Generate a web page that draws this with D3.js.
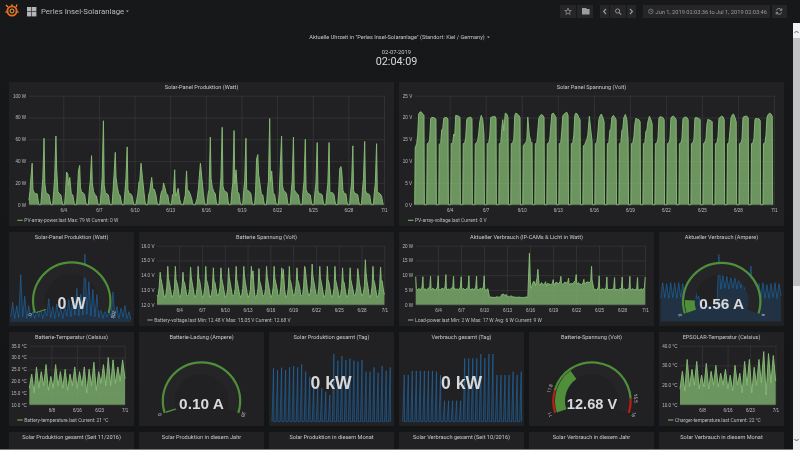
<!DOCTYPE html>
<html>
<head>
<meta charset="utf-8">
<script src="https://cdn.jsdelivr.net/npm/d3@7"></script>
<style>
  html, body { margin: 0; padding: 0; background: #161719; overflow: hidden; }
  svg { display: block; font-family: Roboto, "Liberation Sans", sans-serif; filter: blur(0.35px); }
  .gridline line { stroke: #3c3c3f; stroke-width: 0.6; }
  .gridline path { display: none; }
  .gridline text { fill: #bdbdbf; font-size: 4.6px; }
</style>
</head>
<body>
<div id="dash"></div>
<script>
// one row per day, one value per hour listed in the *Hours array (hours after 02:00)
const powerHours = [0.5, 2.5, 4.5, 7, 8.5, 11, 14, 17, 19, 20.5];
const panelPower = [
  [4,12,25,38,14,11,10,10,4,0], [0,12,24,61,20,11,10,9,4,0], [0,12,25,63,33,12,10,9,4,0],
  [0,12,30,28,18,25,10,9,4,0], [0,12,31,36,16,11,11,9,3,0], [0,13,22,45,20,12,9,8,3,0],
  [0,12,25,77,18,11,10,9,3,0], [0,13,28,48,25,16,10,8,3,0], [0,12,24,53,14,10,10,8,3,0],
  [0,5,10,21,22,38,24,11,3,0], [0,9,12,20,25,14,14,9,3,0], [0,8,12,14,20,16,10,9,3,0],
  [0,9,10,32,8,10,15,5,2,0], [0,5,9,31,14,13,10,6,2,0], [0,3,6,15,24,38,24,10,3,0],
  [0,10,14,62,24,16,12,10,3,0], [0,13,25,71,17,13,12,11,3,0], [0,12,20,68,19,32,12,10,3,0],
  [0,13,22,61,14,13,12,10,3,0], [0,12,42,46,28,20,10,9,3,0], [0,13,22,79,21,31,11,9,3,0],
  [0,13,36,63,18,13,12,10,3,0], [0,12,22,62,14,12,10,9,3,0], [0,13,22,60,14,11,10,9,3,0],
  [0,12,20,57,13,10,10,9,3,0], [0,11,19,57,12,11,11,9,3,0], [0,12,33,35,31,13,10,10,3,0],
  [0,12,20,54,13,10,10,9,3,0], [0,13,24,58,13,10,10,9,3,0], [0,11,20,56,11,11,10,8,3,0]
];

const voltHours = [0, 1, 4, 6, 8, 10, 13, 16, 18.5, 19.3];
const panelVoltage = [
  [0,13,14,16,20.8,21.2,21.3,20.8,20.5,0], [0,14,14.2,15,19.8,20,20,19.9,19.6,0],
  [0,13.8,14.2,17.2,17.3,19.8,20,20,19.6,0], [0,14,14.2,16.2,15.8,20.5,20.4,20.3,20,0],
  [0,14,14.2,15.5,19.5,19.9,20,20.1,19.7,0], [0,13.9,14.3,14.8,16.5,19,20.5,19.5,16,0],
  [0,14,14.2,15.8,20,20.1,20.2,20.3,19.8,0], [0,14,14.1,17.5,19.5,17,21,20.8,20,0],
  [0,14,14.2,15,20.5,21,20.8,20.5,20,0], [0,13.5,14,14.3,14.8,20.1,16,14.5,14.2,0],
  [0,14,14.2,17,19.8,20.3,20.7,20.5,20,0], [0,14,14.2,15,18,20.8,21,20.5,20,0],
  [0,14,14.3,17,20.4,20.7,21,21.2,20.5,0], [0,14,14.2,16,20.5,21,20.8,20,19.5,0],
  [0,13.5,13.8,14.5,15,16,20.3,17,14.5,0], [0,14,14.3,16.5,19.5,20.3,20.8,20,19,0],
  [0,14,14.2,17,17.5,20,20.5,20,19.5,0], [0,14,14.2,17,17.5,20,20.7,19.5,15,0],
  [0,14,14.2,15.5,18.5,19.8,19.6,19.5,19,0], [0,14,14.2,16.8,17.2,19,20.3,19.5,18.5,0],
  [0,14,14.2,15,19.8,20.2,20.1,20,19.5,0], [0,14,14.2,15,19.8,20.2,20.3,20,19.5,0],
  [0,14,14.2,15,19.7,20,20.1,20,19.5,0], [0,14,14.2,15,19.9,20,19.9,19.8,19.5,0],
  [0,14,14.4,15,18.5,19.6,19.4,19.3,19,0], [0,14,14.2,15.5,19.8,20,20.3,20.2,19.5,0],
  [0,14,14.3,17,19.8,20.5,20.8,20,19,0], [0,14,14.2,15,20,20.2,20.3,20.3,19.9,0],
  [0,14,14.2,15.2,19.6,19.8,19.7,19.7,19.3,0], [0,14,14.2,16,20,20.6,21,20.8,20.3,0]
];

const batteryHours = [0, 4, 7, 10, 12, 15, 19, 22];
const batteryVoltage = [
  [12.6,12.7,13.2,14.2,13.8,13.5,13,12.6], [12.5,12.7,13.2,14.6,13.8,13.5,13,12.6],
  [12.5,12.7,13.1,14.6,13.7,13.5,13.1,12.6], [12.5,12.7,13.2,14.2,13.6,13.5,13,12.6],
  [12.6,12.7,13.1,14.55,13.9,13.5,13,12.6], [12.5,12.7,13.2,14.6,13.8,13.6,13,12.6],
  [12.5,12.7,13.2,14.6,13.7,13.5,13.1,12.5], [12.5,12.7,13.1,14.5,13.6,13.5,13,12.6],
  [12.6,12.8,13.2,14.5,13.8,13.5,13,12.6], [12.5,12.7,13,14.5,13.9,13.5,13,12.6],
  [12.6,12.7,13.1,14.6,13.7,13.4,12.9,12.6], [12.5,12.7,13.1,14.6,14,13.5,13,12.6],
  [12.5,12.7,13,14.6,13.8,14.3,13,12.5], [12.5,12.7,13.1,14.45,13.6,13.4,13,12.6],
  [12.6,12.7,13.1,14.6,13.9,13.5,13,12.6], [12.5,12.7,13.2,14.6,13.8,13.5,13.1,12.6],
  [12.6,12.7,13.2,14.5,13.8,14.4,13,12.6], [12.5,12.7,13.2,14.6,13.7,13.5,13,12.6],
  [12.6,12.8,13.3,14.5,13.7,13.5,13.1,12.6], [12.6,12.7,13.2,14.6,14.5,13.8,13,12.7],
  [12.6,12.8,13.3,14.75,14,13.6,13.1,12.7], [12.6,12.7,13.2,14.6,13.8,13.5,13,12.6],
  [12.5,12.7,13.2,14.6,13.7,13.5,13,12.6], [12.5,12.7,13.1,14.6,13.7,13.4,13,12.6],
  [12.5,12.7,13.1,14.5,13.6,13.5,12.9,12.6], [12.5,12.7,13.2,14.5,13.7,13.4,13,12.6],
  [12.6,12.8,13.2,14.45,14.1,13.5,13,12.6], [12.6,12.8,13.3,15.05,14.2,13.6,13.1,12.6],
  [12.5,12.7,13.2,14.6,13.7,13.5,13,12.6], [12.5,12.7,13.2,14.55,13.7,13.6,13,12.68]
];

const loadHours = [0, 2, 5, 10, 15, 20, 22.5];
const loadPower = [
  [9.5,5.5,5,5.5,5,6,9.5], [5.5,5.2,5.4,5,5.6,5.8,9.6], [5.4,5,5.6,5.2,5,6,9.8],
  [5.5,5.2,5,5.6,5.2,6,10.2], [5.6,5,5.4,5,5.6,5.8,9.6], [5.2,5.6,5,5.4,5,6,9.5],
  [5.4,5.2,5.6,5,5.4,5.8,9.8], [5.6,5,5.2,5.4,5,6,9.7], [5.5,5.2,5,5.6,5.2,6,9.8],
  [5.5,5,5,5.4,2.6,2.5,2.6], [2.5,2.6,2.4,2.5,2.7,2.5,2.6], [2.5,2.6,3.4,3.6,3.2,3.4,2.8],
  [3,2.7,2.6,3,2.7,2.6,2.5], [2.6,2.5,2.4,2.6,2.5,2.4,2.5], [2.5,2.4,2.5,2.6,2.5,17.5,9],
  [6,5.5,7,8,6.5,9,12], [9.8,7,6.5,7.5,6.8,7,7.8], [7,6.4,7.2,7,6.8,7.2,8.5],
  [7,6.6,7.4,7.6,7,7.8,9.6], [7.4,7,6.8,7.6,7.4,7.6,9], [7,6.6,7.2,7,7.6,8.2,10.2],
  [7.6,7,7.4,7,6.8,7.4,8.6], [7,7.2,7.4,7.8,7.4,8,13], [8.4,7.4,5.4,5.2,5,6,9.8],
  [5.4,5,5.2,5.4,5,5.8,9.4], [5.2,5.4,5,5.2,5,5.8,9.2], [5.4,5,5.2,5,5.4,5.6,9.4],
  [5,5.2,5.4,5,5.2,5.8,9.6], [5.2,5,5.4,5.2,5,5.6,9.2], [5,5.2,5,5.4,5,5.8,9.4]
];

// temperatures: one value every 18 hours
const batteryTemp = [17,23,15,26,17,24,18,27,16,22,17,27,18,24,17,25,16,23,18,26,17,24,18,26,15,25,18,28,16,24,19,27,18,30,18,29,19,26,20,29,21];
const chargerTemp = [18,27,17,33,19,28,20,32,18,25,19,31,18,27,20,30,19,26,20,28,18,25,17,30,20,26,16,32,20,33,16,29,20,33,21,37,15,36,21,35,22];
// sparklines: one value every 12 hours
const solarSpark = [6,23,4,19,5,55,6,30,4,19,5,12,4,14,6,16,4,14,7,27,5,18,4,21,6,16,4,19,7,26,6,28,8,39,7,32,8,79,9,47,7,38,6,32,5,16,4,14,6,12,7,35,5,18,4,16,6,19,4,12,3];
const ampereSpark = [0.5,0.84,0.52,0.82,0.5,0.84,0.52,0.83,0.5,0.84,0.53,0.82,0.5,0.83,0.52,0.84,0.5,0.83,0.5,0.55,0.26,0.3,0.27,0.36,0.28,0.32,0.26,0.3,0.26,1.45,0.7,1.0,0.72,0.98,0.7,0.95,0.72,0.98,0.7,0.95,0.72,0.94,0.7,0.9,0.68,1.2,0.6,0.86,0.5,0.82,0.52,0.84,0.5,0.8,0.5,0.82,0.52,0.84,0.5,0.82,0.56];
// highest reading of each day, counter goes back to 0 at night
const solarDayPeaks = [160,155,162,155,163,167,163,172,150,135,115,110,100,90,80,203,183,197,185,189,183,180,185,150,150,163,147,167,153,163];
const loadDayPeaks = [140,140,152,152,152,152,152,152,150,140,63,63,63,63,63,190,190,190,190,203,190,203,203,140,140,140,140,150,140,150];

const dayTicks = ["06-04","06-07","06-10","06-13","06-16","06-19","06-22","06-25","06-28","07-01"];
const weekTicks = ["06-08","06-16","06-23","07-01"];
const tickDates = dayTicks.map(d => new Date("2019-" + d + "T00:00:00Z"));
const weekDates = weekTicks.map(d => new Date("2019-" + d + "T00:00:00Z"));

const bottomTitles = ["Solar Produktion gesamt (Seit 11/2016)", "Solar Produktion in diesem Jahr", "Solar Produktion in diesem Monat",
  "Solar Verbrauch gesamt (Seit 10/2016)", "Solar Verbrauch in diesem Jahr", "Solar Verbrauch in diesem Monat"];

const w = 800, h = 450;
const startMs = Date.UTC(2019, 5, 1, 2, 3, 36);
const endMs = Date.UTC(2019, 6, 1, 2, 3, 46);
const HOUR = 3600000;
const GREEN = "#7eb26d", BLUE = "#1f78c1", RING = "#508f3a";

const svg = d3.select("#dash").append("svg").attr("width", w).attr("height", h);
const defs = svg.append("defs");
const bgGrad = defs.append("linearGradient").attr("id", "bg").attr("x1", 0).attr("x2", 0).attr("y1", 0).attr("y2", 1);
bgGrad.append("stop").attr("offset", 0).attr("stop-color", "#17181a");
bgGrad.append("stop").attr("offset", 1).attr("stop-color", "#141517");
svg.append("rect").attr("width", w).attr("height", h).attr("fill", "url(#bg)");

// turn day rows into {t, v} points
const fromRows = (rows, hours) => rows.flatMap((row, day) =>
  row.map((v, i) => ({ t: new Date(startMs + (day * 24 + hours[i]) * HOUR), v: v })));
const fromSteps = (values, step) => values.map((v, i) => ({ t: new Date(startMs + i * step * HOUR), v: v }));
const fromPeaks = peaks => peaks.flatMap((v, day) => [
  { t: new Date(startMs + (day + 0.42) * 24 * HOUR), v: 0 },
  { t: new Date(startMs + (day + 0.8) * 24 * HOUR), v: v },
  { t: new Date(startMs + (day + 0.9) * 24 * HOUR), v: 0 }
]);

const panel = (x0, y0, x1, y1, title) => {
  svg.append("rect").attr("x", x0).attr("y", y0).attr("width", x1 - x0).attr("height", y1 - y0).attr("fill", "#212124");
  svg.append("text").attr("x", (x0 + x1) / 2).attr("y", y0 + 7.4).attr("text-anchor", "middle")
    .attr("font-size", 5.6).attr("fill", "#c8c9ca").text(title);
};

const timeChart = (p) => {
  const x = d3.scaleUtc().domain([startMs, endMs]).range([p.left, p.right]);
  const y = d3.scaleLinear().domain(p.domain).range([p.bottom, p.top]);
  const g = svg.append("g");
  g.append("g").classed("gridline", true).attr("transform", "translate(" + p.left + ",0)")
    .call(d3.axisLeft(y).tickValues(p.yTicks).tickSize(-(p.right - p.left)).tickPadding(2.5)
      .tickFormat(d => (p.fixed ? d.toFixed(1) : d) + " " + p.unit));
  g.append("g").classed("gridline", true).attr("transform", "translate(0," + p.bottom + ")")
    .call(d3.axisBottom(x).tickValues(p.xTicks || tickDates).tickSize(-(p.bottom - p.top)).tickPadding(3.8)
      .tickFormat(d => (d.getUTCMonth() + 1) + "/" + d.getUTCDate()));
  g.selectAll(".gridline text").attr("stroke", "none");
  const area = d3.area().x(d => x(d.t)).y0(p.bottom).y1(d => y(d.v));
  const line = d3.line().x(d => x(d.t)).y(d => y(d.v));
  g.append("path").datum(p.points).attr("d", area).attr("fill", GREEN).attr("fill-opacity", 0.8);
  g.append("path").datum(p.points).attr("d", line).attr("fill", "none").attr("stroke", "#86bb74").attr("stroke-width", 0.95);
  // legend under the plot
  g.append("line").attr("x1", p.legendX).attr("x2", p.legendX + 5.4).attr("y1", p.legendY).attr("y2", p.legendY)
    .attr("stroke", GREEN).attr("stroke-width", 1.1);
  g.append("text").attr("x", p.legendX + 7).attr("y", p.legendY + 1.7).attr("font-size", 4.9).attr("fill", "#bdbec0").text(p.legend);
};

const spark = (left, right, top, bottom, points, fillOpacity) => {
  const x = d3.scaleUtc().domain([startMs, endMs]).range([left, right]);
  const y = d3.scaleLinear().domain([0, d3.max(points, d => d.v)]).range([bottom, top]);
  svg.append("path").datum(points).attr("d", d3.area().x(d => x(d.t)).y0(bottom).y1(d => y(d.v)))
    .attr("fill", BLUE).attr("fill-opacity", fillOpacity);
  svg.append("path").datum(points).attr("d", d3.line().x(d => x(d.t)).y(d => y(d.v)))
    .attr("fill", "none").attr("stroke", BLUE).attr("stroke-opacity", 0.7).attr("stroke-width", 0.7);
};

const bigValue = (cx, cy, text, size) => {
  svg.append("text").attr("x", cx).attr("y", cy).attr("text-anchor", "middle").attr("dominant-baseline", "middle")
    .attr("font-family", "'Liberation Sans', sans-serif").attr("font-weight", "bold").attr("font-size", size)
    .attr("fill", "#d8d9da").text(text);
};

// gauge runs 108 degrees either side of straight up
const gauge = (g) => {
  const sweep = 108 * Math.PI / 180;
  const angle = d3.scaleLinear().domain([g.min, g.max]).range([-sweep, sweep]);
  const c = svg.append("g").attr("transform", "translate(" + g.cx + "," + g.cy + ")");
  c.append("path").attr("fill", "#252527")
    .attr("d", d3.arc()({ innerRadius: 27, outerRadius: 37.6, startAngle: -sweep, endAngle: sweep }));
  c.append("path").attr("fill", RING).attr("stroke", RING).attr("stroke-width", g.value / (g.max - g.min) < 0.02 ? 0.8 : 0)
    .attr("d", d3.arc()({ innerRadius: 27, outerRadius: 37, startAngle: -sweep, endAngle: angle(g.value) }));
  g.bands.forEach(b => {
    c.append("path").attr("fill", b[2])
      .attr("d", d3.arc()({ innerRadius: 37.6, outerRadius: 39.8, startAngle: angle(b[0]), endAngle: angle(b[1]) }));
  });
  g.labels.forEach(l => {
    const a = angle(l);
    c.append("text").attr("x", 43.5 * Math.sin(a)).attr("y", -43.5 * Math.cos(a)).attr("text-anchor", "middle")
      .attr("dominant-baseline", "middle").attr("font-size", 4.6).attr("fill", "#cfd0d1")
      .attr("transform", "rotate(" + (a * 180 / Math.PI) + " " + (43.5 * Math.sin(a)) + " " + (-43.5 * Math.cos(a)) + ")")
      .text(l);
  });
  bigValue(g.cx, g.textY, g.text, g.size);
};

// --- top bar ---
const logo = svg.append("g").attr("transform", "translate(12,11)");
logo.append("circle").attr("r", 4.6).attr("fill", "none").attr("stroke", "#f0681f").attr("stroke-width", 1.9);
logo.append("circle").attr("r", 2).attr("fill", "none").attr("stroke", "#f9b233").attr("stroke-width", 1);
logo.append("path").attr("d", "M-4,-4 L-6,-6 M4,-4 L5,-6.4 M0,-5 L0,-6.8 M5,1 L6.8,1 M-5,1 L-6.8,1").attr("stroke", "#f48b25").attr("stroke-width", 1.2);

[[27, 7], [32, 7], [27, 12], [32, 12]].forEach(c => {
  svg.append("rect").attr("x", c[0]).attr("y", c[1]).attr("width", 4.4).attr("height", 4.4).attr("fill", "#b4b5b7");
});
svg.append("text").attr("x", 41).attr("y", 14).attr("font-size", 7.8).attr("fill", "#b9babb").text("Perles Insel-Solaranlage");
svg.append("path").attr("d", "M126,10.6 h2.8 l-1.4,1.6 z").attr("fill", "#a8a9aa");

const buttons = [[560, 16], [577, 16], [600, 9], [610, 16], [627, 9], [643, 127], [772, 15]];
buttons.forEach(b => {
  svg.append("rect").attr("x", b[0]).attr("y", 5).attr("width", b[1]).attr("height", 13).attr("fill", "#262628");
});
const iconColor = "#9b9c9e";
svg.append("path").attr("fill", "none").attr("stroke", iconColor).attr("stroke-width", 0.7)
  .attr("d", d3.symbol().type(d3.symbolStar).size(14)()).attr("transform", "translate(568,11.6)");
svg.append("path").attr("fill", iconColor).attr("d", "M582,8 h4 l1,1 h2.6 v5.4 h-7.6 z");
svg.append("path").attr("fill", "none").attr("stroke", iconColor).attr("stroke-width", 1.1).attr("d", "M606,9 l-2.4,2.5 l2.4,2.5");
svg.append("circle").attr("cx", 617.6).attr("cy", 11).attr("r", 2.1).attr("fill", "none").attr("stroke", iconColor).attr("stroke-width", 0.9);
svg.append("path").attr("stroke", iconColor).attr("stroke-width", 1.1).attr("d", "M619.2,12.6 l2,2");
svg.append("path").attr("fill", "none").attr("stroke", iconColor).attr("stroke-width", 1.1).attr("d", "M630,9 l2.4,2.5 l-2.4,2.5");
svg.append("circle").attr("cx", 650.8).attr("cy", 11.4).attr("r", 2.3).attr("fill", "none").attr("stroke", iconColor).attr("stroke-width", 0.6);
svg.append("path").attr("fill", "none").attr("stroke", iconColor).attr("stroke-width", 0.5).attr("d", "M650.8,10 v1.5 h1.2");
svg.append("text").attr("x", 655.5).attr("y", 13.6).attr("font-size", 5.7).attr("fill", "#9a9b9d").text("Jun 1, 2019 02:03:36 to Jul 1, 2019 02:03:46");
svg.append("path").attr("fill", "none").attr("stroke", iconColor).attr("stroke-width", 0.9)
  .attr("d", "M776.4,10.4 A2.7,2.7 0 0 1 781.4,10 M781.6,12.4 A2.7,2.7 0 0 1 776.6,12.8 M781.8,8.4 v2 h-2 M776.2,14.4 v-2 h2");

// --- clock header ---
svg.append("text").attr("x", 397).attr("y", 39).attr("text-anchor", "middle").attr("font-size", 5.6).attr("fill", "#c6c7c8")
  .text("Aktuelle Uhrzeit in \"Perles Insel-Solaranlage\" (Standort: Kiel / Germany)");
svg.append("path").attr("d", "M487,36.6 h2.8 l-1.4,1.6 z").attr("fill", "#a8a9aa");
svg.append("text").attr("x", 396.5).attr("y", 54).attr("text-anchor", "middle").attr("font-size", 5.8).attr("fill", "#c6c7c8").text("02-07-2019");
svg.append("text").attr("x", 396.5).attr("y", 65.2).attr("text-anchor", "middle").attr("font-size", 10.8).attr("fill", "#d8d9da").text("02:04:09");

// --- row 1 ---
panel(9, 82, 394, 226, "Solar-Panel Produktion (Watt)");
timeChart({ left: 28.7, right: 385, top: 95.7, bottom: 204.7, domain: [0, 100], yTicks: [0, 20, 40, 60, 80, 100], unit: "W",
  points: fromRows(panelPower, powerHours), legendX: 17.3, legendY: 220.3, legend: "PV-array-power.last  Max: 79 W  Current: 0 W" });
panel(399, 82, 784, 226, "Solar Panel Spannung (Volt)");
timeChart({ left: 414.7, right: 775, top: 95.7, bottom: 204.7, domain: [0, 25], yTicks: [0, 5, 10, 15, 20, 25], unit: "V",
  points: fromRows(panelVoltage, voltHours), legendX: 408, legendY: 220.3, legend: "PV-array-voltage.last  Current: 0 V" });

// --- row 2 ---
panel(9, 232, 134, 326, "Solar-Panel Produktion (Watt)");
spark(10.7, 131, 254, 322, fromSteps(solarSpark, 12), 0.2);
gauge({ cx: 71.7, cy: 301, min: 0, max: 200, value: 0, labels: [0, 200], bands: [[0, 200, RING]], text: "0 W", textY: 305, size: 16 });

panel(139, 232, 394, 326, "Batterie Spannung (Volt)");
timeChart({ left: 157, right: 385, top: 245.7, bottom: 304.7, domain: [12, 16], yTicks: [12, 13, 14, 15, 16], unit: "V", fixed: true,
  points: fromRows(batteryVoltage, batteryHours), legendX: 147.3, legendY: 320, legend: "Battery-voltage.last  Min: 12.48 V  Max: 15.05 V  Current: 12.68 V" });

panel(399, 232, 654, 326, "Aktueller Verbrauch (IP-CAMs & Licht in Watt)");
timeChart({ left: 415.7, right: 645.7, top: 245.7, bottom: 304.7, domain: [0, 20], yTicks: [0, 5, 10, 15, 20], unit: "W",
  points: fromRows(loadPower, loadHours), legendX: 408, legendY: 320, legend: "Load-power.last  Min: 2 W  Max: 17 W  Avg: 6 W  Current: 9 W" });

panel(659, 232, 784, 326, "Aktueller Verbrauch (Ampere)");
spark(660.7, 781, 254.5, 321.5, fromSteps(ampereSpark, 12), 0.2);
gauge({ cx: 721.7, cy: 301.5, min: 0, max: 6, value: 0.56, labels: [0, 6], bands: [[0, 6, RING]], text: "0.56 A", textY: 305, size: 15.4 });

// --- row 3 ---
panel(9, 332, 134, 426, "Batterie-Temperatur (Celsius)");
timeChart({ left: 29.3, right: 125, top: 345.7, bottom: 404.7, domain: [10, 35], yTicks: [10, 15, 20, 25, 30, 35], unit: "°C", fixed: true, xTicks: weekDates,
  points: fromSteps(batteryTemp, 18), legendX: 17.3, legendY: 420, legend: "Battery-temperature.last  Current: 21 °C" });

panel(139, 332, 264, 426, "Batterie-Ladung (Ampere)");
gauge({ cx: 201.5, cy: 401, min: 0, max: 20, value: 0.1, labels: [0, 20], bands: [[0, 20, RING]], text: "0.10 A", textY: 405, size: 15.4 });

panel(269, 332, 394, 426, "Solar Produktion gesamt (Tag)");
spark(270.3, 391, 354, 421.7, fromPeaks(solarDayPeaks), 0.14);
bigValue(331, 384, "0 kW", 17.6);

panel(399, 332, 524, 426, "Verbrauch gesamt (Tag)");
spark(401, 522, 354, 421.7, fromPeaks(loadDayPeaks), 0.14);
bigValue(461.5, 384, "0 kW", 17.6);

panel(529, 332, 654, 426, "Batterie-Spannung (Volt)");
gauge({ cx: 592, cy: 401, min: 11, max: 16, value: 12.68, labels: [11, 11.8, 15.5, 16],
  bands: [[11, 11.8, "#b8200f"], [11.8, 15.5, RING], [15.5, 16, "#b8200f"]], text: "12.68 V", textY: 405, size: 14.6 });

panel(659, 332, 784, 426, "EPSOLAR-Temperatur (Celsius)");
timeChart({ left: 680, right: 775.7, top: 345.7, bottom: 404.7, domain: [10, 40], yTicks: [10, 20, 30, 40], unit: "°C", fixed: true, xTicks: weekDates,
  points: fromSteps(chargerTemp, 18), legendX: 668, legendY: 420, legend: "Charger-temperature.last  Current: 22 °C" });

// --- row 4, cut off by the window ---
[9, 139, 269, 399, 529, 659].forEach((x0, i) => panel(x0, 432, x0 + 125, 450, bottomTitles[i]));
svg.append("rect").attr("x", 0).attr("y", 449).attr("width", 793).attr("height", 1).attr("fill", "#777");

// --- browser scrollbar ---
svg.append("rect").attr("x", 793).attr("y", 23).attr("width", 7).attr("height", 427).attr("fill", "#f1f1f1");
svg.append("rect").attr("x", 793).attr("y", 38).attr("width", 7).attr("height", 248).attr("fill", "#c4c4c4");
svg.append("path").attr("fill", "none").attr("stroke", "#555").attr("stroke-width", 0.9).attr("d", "M794.5,33 l2,-2 l2,2");
svg.append("path").attr("fill", "none").attr("stroke", "#555").attr("stroke-width", 0.9).attr("d", "M794.5,439 l2,2 l2,-2");
</script>
</body>
</html>
